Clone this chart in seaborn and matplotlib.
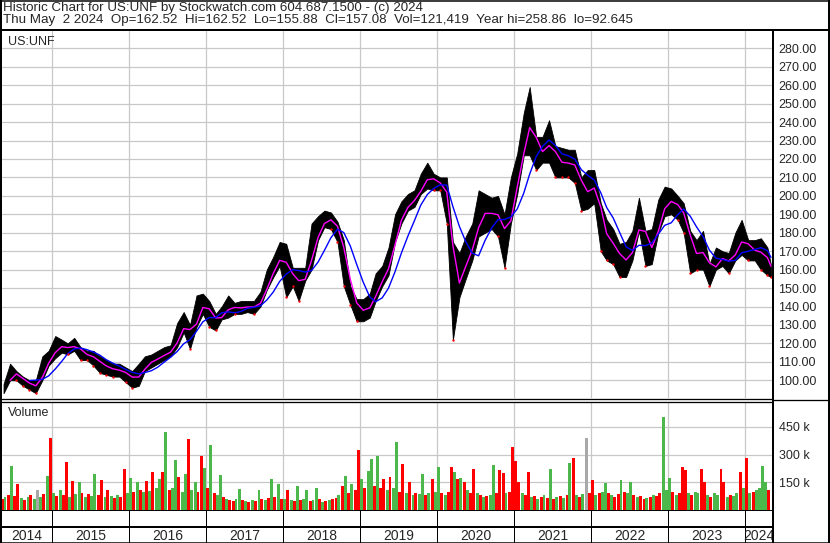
import numpy as np
import pandas as pd
import seaborn as sns
import matplotlib.pyplot as plt
from matplotlib.lines import Line2D

sns.set_style('white')
plt.rcParams['font.family'] = ['Liberation Sans', 'DejaVu Sans']

W, H = 830, 543

# monthly high / low, May 2014 .. Apr 2024, last entry is the May 2 2024 bar
hi_2014 = [98, 109, 105, 102, 100, 100, 113, 116]
lo_2014 = [93, 100, 100, 97, 95, 93, 100, 108]
hi_2015 = [124, 122, 120, 123, 118, 116, 116, 113, 111, 109, 109, 107]
lo_2015 = [112, 115, 114, 116, 111, 111, 108, 104, 103, 102, 102, 99]
hi_2016 = [105, 109, 113, 114, 116, 118, 119, 131, 137, 130, 146, 147]
lo_2016 = [96, 97, 105, 107, 109, 111, 113, 118, 126, 117, 129, 136]
hi_2017 = [143, 136, 140, 146, 142, 143, 143, 143, 148, 160, 167, 175]
lo_2017 = [129, 127, 133, 134, 136, 136, 137, 136, 140, 149, 156, 162]
hi_2018 = [174, 161, 161, 161, 185, 189, 192, 191, 186, 176, 151, 144]
lo_2018 = [145, 151, 143, 154, 160, 176, 183, 182, 175, 151, 141, 132]
hi_2019 = [144, 147, 158, 162, 172, 190, 197, 201, 203, 212, 218, 212]
lo_2019 = [132, 134, 143, 151, 157, 175, 185, 192, 194, 201, 204, 203]
hi_2020 = [210, 210, 175, 169, 178, 185, 203, 201, 199, 200, 190, 210]
lo_2020 = [203, 185, 122, 145, 155, 165, 178, 180, 182, 178, 161, 185]
hi_2021 = [223, 245, 259, 232, 232, 241, 227, 226, 225, 225, 210, 214]
lo_2021 = [201, 222, 222, 214, 218, 218, 210, 210, 210, 207, 192, 193]
hi_2022 = [214, 196, 187, 182, 174, 175, 181, 199, 181, 182, 198, 205]
lo_2022 = [196, 170, 165, 163, 156, 156, 165, 181, 162, 163, 180, 189]
hi_2023 = [204, 200, 196, 181, 176, 181, 163, 172, 170, 169, 180, 187]
lo_2023 = [190, 187, 180, 158, 160, 160, 151, 160, 162, 158, 165, 168]
hi_2024 = [176, 176, 177, 172, 162.52]
lo_2024 = [165, 165, 160, 157, 155.88]

# half-monthly volume (thousands) and colour (r = down, g = up, n = unchanged)
vol_2014 = [60, 70, 80, 237, 75, 140, 65, 55, 70, 80, 60, 107, 70, 85, 185, 388]
col_2014 = "rgrgrrgrgrgngrgr"
vol_2015 = [90, 75, 110, 80, 260, 70, 156, 85, 150, 90, 70, 85, 75, 193, 80, 165, 70, 107, 75, 65, 80, 70, 220, 90]
col_2015 = "grgrrgrggrgrggrrgrgrgrrg"
vol_2016 = [173, 100, 150, 110, 95, 156, 105, 204, 120, 169, 204, 425, 110, 120, 270, 179, 100, 193, 382, 110, 150, 95, 290, 227]
col_2016 = "grgrgrgrggrgrggrggrggrrg"
vol_2017 = [120, 353, 90, 80, 189, 70, 60, 55, 50, 60, 115, 55, 50, 45, 55, 50, 107, 60, 55, 65, 169, 70, 142, 60]
col_2017 = "rgrggrgrrggrgrgrgrgrgrgr"
vol_2018 = [60, 107, 55, 50, 131, 55, 60, 107, 50, 55, 120, 60, 45, 50, 55, 60, 65, 80, 131, 185, 90, 140, 110, 324]
col_2018 = "grgrgrggrggrgrgrrgrgrgrr"
vol_2019 = [169, 120, 212, 276, 130, 290, 120, 169, 110, 179, 120, 369, 100, 247, 90, 150, 80, 90, 85, 193, 80, 90, 169, 100]
col_2019 = "grggrgrrgrggrrgrgrggrgrg"
vol_2020 = [231, 90, 80, 100, 231, 208, 169, 173, 150, 110, 90, 224, 90, 80, 70, 75, 80, 243, 90, 218, 198, 90, 100, 339]
col_2020 = "grgrrgrgrgrrgrgrggrrrgrr"
vol_2021 = [266, 150, 90, 80, 204, 70, 75, 60, 70, 80, 65, 224, 60, 70, 75, 65, 80, 254, 281, 80, 70, 85, 392, 90]
col_2021 = "rrgrrgrgrgrgrgrgrgrgrgnr"
vol_2022 = [165, 80, 90, 100, 146, 90, 80, 70, 85, 165, 100, 90, 150, 80, 70, 75, 60, 65, 70, 80, 75, 90, 502, 110]
col_2022 = "rgrggrgrrgrggrgrrgrgrrgg"
vol_2023 = [173, 100, 80, 90, 231, 218, 90, 80, 100, 90, 222, 150, 80, 70, 90, 80, 222, 150, 70, 80, 75, 90, 204, 120]
col_2023 = "grgrrrgrggrrgrggrrgrggrg"
vol_2024 = [281, 90, 100, 110, 120, 237, 150, 111]
col_2024 = "rgrggggr"

price_ticks = list(range(100, 290, 10))
vol_ticks = [150, 300, 450]
years = list(range(2014, 2025))

header1 = "Historic Chart for US:UNF by Stockwatch.com 604.687.1500 - (c) 2024"
header2 = ("Thu May  2 2024  Op=162.52  Hi=162.52  Lo=155.88  Cl=157.08  "
           "Vol=121,419  Year hi=258.86  lo=92.645")


def frac_year(d):
    d = pd.DatetimeIndex(d)
    return d.year + (d.dayofyear - 1) / 365.25


hi = sum([hi_2014, hi_2015, hi_2016, hi_2017, hi_2018, hi_2019, hi_2020,
          hi_2021, hi_2022, hi_2023, hi_2024], [])
lo = sum([lo_2014, lo_2015, lo_2016, lo_2017, lo_2018, lo_2019, lo_2020,
          lo_2021, lo_2022, lo_2023, lo_2024], [])
dates = list(pd.date_range('2014-05-01', '2024-04-01', freq='MS') + pd.Timedelta(days=14)) + [pd.Timestamp('2024-05-02')]
price = pd.DataFrame({'t': frac_year(dates), 'hi': hi, 'lo': lo})
price['mid'] = (price.hi + price.lo) / 2
price['ma_fast'] = price.mid.rolling(2).mean()
price['ma_slow'] = price.mid.rolling(5).mean()
down = price[price.mid.diff() < 0]

vol = sum([vol_2014, vol_2015, vol_2016, vol_2017, vol_2018, vol_2019, vol_2020,
           vol_2021, vol_2022, vol_2023, vol_2024], [])
cols = "".join([col_2014, col_2015, col_2016, col_2017, col_2018, col_2019, col_2020,
                col_2021, col_2022, col_2023, col_2024])
vdates = pd.date_range('2014-05-01', periods=len(vol), freq='SMS') + pd.Timedelta(days=7)
volume = pd.DataFrame({'t': frac_year(vdates), 'v': vol, 'c': list(cols)})
cmap = {'r': '#ff0000', 'g': '#4cb84c', 'n': '#a8a8a8'}

X0, X1 = 2014.347, 2014.347 + 771 / 77.0

fig = plt.figure(figsize=(W / 100, H / 100), dpi=100)


def fax(l, t, r, b):
    return fig.add_axes([l / W, 1 - b / H, (r - l) / W, (b - t) / H])


def fline(x0, y0, x1, y1, lw=1.0):
    fig.add_artist(Line2D([x0 / W, x1 / W], [1 - y0 / H, 1 - y1 / H],
                          transform=fig.transFigure, color='black', lw=lw * 0.72,
                          solid_capstyle='butt'))


grid_kw = dict(color='#c8c8c8', lw=0.9)

# price panel
ax_p = fax(2, 31, 773, 398)
ax_p.fill_between(price.t, price.lo, price.hi, color='black', lw=0.6)
ax_p.scatter(down.t, down.lo, s=3, color='#ff0000', lw=0, zorder=3)
sns.lineplot(data=price, x='t', y='ma_fast', ax=ax_p, color='#ff00ff', lw=1.0)
sns.lineplot(data=price, x='t', y='ma_slow', ax=ax_p, color='#0000ff', lw=1.0)
ax_p.set_xlim(X0, X1)
ax_p.set_ylim(100 - (398 - 380.3) / 1.844, 280 + (48.3 - 31) / 1.844)
ax_p.set_yticks(price_ticks)
ax_p.set_yticklabels([f'{p:.2f}' for p in price_ticks])
ax_p.set_xticks(years[1:])
ax_p.set_xticklabels([])
ax_p.yaxis.tick_right()
ax_p.tick_params(axis='y', length=0, pad=4, labelsize=9)
ax_p.tick_params(axis='x', length=0)
ax_p.grid(True, **grid_kw)
ax_p.set_axisbelow(True)
ax_p.set_xlabel('')
ax_p.set_ylabel('')
for s in ax_p.spines.values():
    s.set_visible(False)
ax_p.text(6 / 771, 1 - 11 / 367, 'US:UNF', transform=ax_p.transAxes, fontsize=9, va='center')

# volume panel
ax_v = fax(2, 402, 773, 510)
ax_v.bar(volume.t, volume.v, width=1 / 24 * 0.92, color=[cmap[c] for c in volume.c], lw=0)
ax_v.set_xlim(X0, X1)
ax_v.set_ylim(0, 585)
ax_v.set_yticks(vol_ticks)
ax_v.set_yticklabels([f'{v} k' for v in vol_ticks])
ax_v.set_xticks(years[1:])
ax_v.set_xticklabels([])
ax_v.yaxis.tick_right()
ax_v.tick_params(axis='y', length=0, pad=4, labelsize=9)
ax_v.tick_params(axis='x', length=0)
ax_v.grid(True, **grid_kw)
ax_v.set_axisbelow(True)
for s in ax_v.spines.values():
    s.set_visible(False)
ax_v.text(6 / 771, 1 - 11 / 108, 'Volume', transform=ax_v.transAxes, fontsize=9, va='center')

# year strip
ax_y = fax(2, 510, 773, 543)
ax_y.set_xlim(X0, X1)
ax_y.set_ylim(33, 0)
ax_y.axis('off')
for y in years:
    a, b = max(y, X0), min(y + 1, X1)
    ax_y.text((a + b) / 2, 25.5, str(y), ha='center', va='center', fontsize=10)
    if y > 2014:
        ax_y.plot([y, y], [0, 33], color='black', lw=0.72)

# frame lines
fline(0, 0.5, 830, 0.5, 1.5)
fline(0, 542.5, 830, 542.5, 1.5)
fline(0.75, 0, 0.75, 543, 2)
fline(829, 0, 829, 543, 2)
fline(0, 30, 830, 30, 2)
fline(773, 30, 773, 543, 2)
fline(0, 398.5, 773, 398.5, 1.3)
fline(0, 401.5, 773, 401.5, 1.3)
fline(773, 400, 830, 400, 1.3)
fline(0, 510, 773, 510, 1.0)
fline(0, 527, 773, 527, 2)

fig.text(3 / W, 1 - 11 / H, header1, fontsize=9.6, va='baseline')
fig.text(3 / W, 1 - 23.5 / H, header2, fontsize=9.6, va='baseline')

fig.savefig('out.png', dpi=100)
